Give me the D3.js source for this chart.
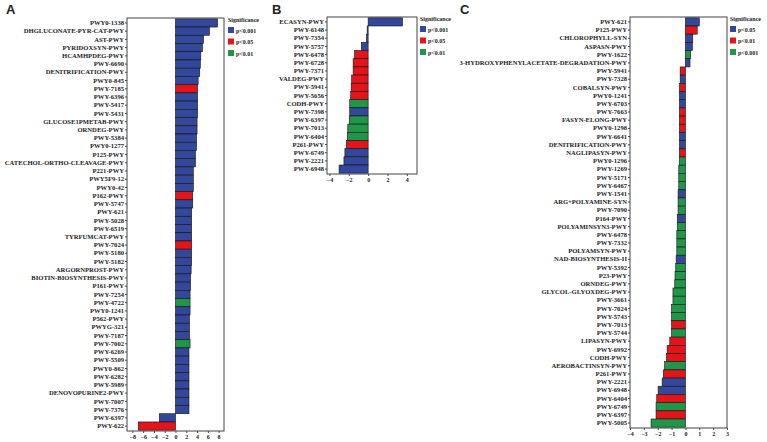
<!DOCTYPE html>
<html>
<head>
<meta charset="utf-8">
<script src="https://cdn.jsdelivr.net/npm/d3@7"></script>
<style>
  body { margin: 0; background: #fff; }
  svg text { font-family: "Liberation Serif", "DejaVu Serif", serif; font-weight: bold; fill: #222; }
</style>
</head>
<body>
<script>
// Panel A
const namesA = ["PWY0-1338","DHGLUCONATE-PYR-CAT-PWY","AST-PWY","PYRIDOXSYN-PWY","HCAMHPDEG-PWY","PWY-6690",
  "DENITRIFICATION-PWY","PWY0-845","PWY-7185","PWY-6396","PWY-5417","PWY-5431","GLUCOSE1PMETAB-PWY","ORNDEG-PWY",
  "PWY-5384","PWY0-1277","P125-PWY","CATECHOL-ORTHO-CLEAVAGE-PWY","P221-PWY","PWY5F9-12","PWY0-42","P162-PWY",
  "PWY-5747","PWY-621","PWY-5028","PWY-6519","TYRFUMCAT-PWY","PWY-7024","PWY-5180","PWY-5182","ARGORNPROST-PWY",
  "BIOTIN-BIOSYNTHESIS-PWY","P161-PWY","PWY-7254","PWY-4722","PWY0-1241","P562-PWY","PWYG-321","PWY-7187",
  "PWY-7002","PWY-6269","PWY-5509","PWY0-862","PWY-6282","PWY-5989","DENOVOPURINE2-PWY","PWY-7007","PWY-7376",
  "PWY-6397","PWY-622"];
const valuesA = [7.8,6.3,5.2,5.0,4.7,4.6,4.5,4.2,4.1,4.1,4.1,4.1,4.0,4.0,3.9,3.9,3.7,3.7,3.3,3.3,3.3,3.2,
  3.2,3.0,3.0,3.0,3.0,3.0,3.0,3.0,2.9,2.8,2.8,2.7,2.7,2.7,2.6,2.6,2.6,2.7,2.5,2.5,2.5,2.5,2.5,2.5,2.5,2.5,
  -3.0,-6.9];
const sigA = ["b","b","b","b","b","b","b","b","r","b","b","b","b","b","b","b","b","b","b","b","b","r",
  "b","b","b","b","b","r","b","b","b","b","b","b","g","b","b","b","b","g","b","b","b","b","b","b","b","b",
  "b","r"];
const ticksA = [-8,-6,-4,-2,0,2,4,6,8];
const legendA = ["p<0.001","p<0.05","p<0.01"];

// Panel B
const namesB = ["ECASYN-PWY","PWY-6148","PWY-7354","PWY-5757","PWY-6478","PWY-6728","PWY-7371","VALDEG-PWY",
  "PWY-5941","PWY-5656","CODH-PWY","PWY-7398","PWY-6397","PWY-7013","PWY-6404","P261-PWY","PWY-6749",
  "PWY-2221","PWY-6948"];
const valuesB = [3.55,-0.1,-0.17,-0.7,-1.4,-1.55,-1.55,-1.7,-1.75,-1.8,-1.9,-1.9,-1.95,-2.1,-2.15,-2.25,-2.4,-2.5,-3.0];
const sigB = ["b","b","b","b","r","r","r","r","r","r","g","b","g","g","g","r","b","b","b"];
const ticksB = [-4,-2,0,2,4];
const legendB = ["p<0.001","p<0.05","p<0.01"];

// Panel C
const namesC = ["PWY-621","P125-PWY","CHLOROPHYLL-SYN","ASPASN-PWY","PWY-1622",
  "3-HYDROXYPHENYLACETATE-DEGRADATION-PWY","PWY-5941","PWY-7328","COBALSYN-PWY","PWY0-1241","PWY-6703",
  "PWY-7663","FASYN-ELONG-PWY","PWY0-1298","PWY-6641","DENITRIFICATION-PWY","NAGLIPASYN-PWY","PWY0-1296",
  "PWY-1269","PWY-5171","PWY-6467","PWY-1541","ARG+POLYAMINE-SYN","PWY-7090","P164-PWY","POLYAMINSYN3-PWY",
  "PWY-6478","PWY-7332","POLYAMSYN-PWY","NAD-BIOSYNTHESIS-II","PWY-5392","P23-PWY","ORNDEG-PWY",
  "GLYCOL-GLYOXDEG-PWY","PWY-3661","PWY-7024","PWY-5743","PWY-7013","PWY-5744","LIPASYN-PWY","PWY-6992",
  "CODH-PWY","AEROBACTINSYN-PWY","P261-PWY","PWY-2221","PWY-6948","PWY-6404","PWY-6749","PWY-6397","PWY-5005"];
const valuesC = [1.0,0.85,0.53,0.5,0.38,0.33,-0.38,-0.38,-0.43,-0.43,-0.43,-0.43,-0.43,-0.43,-0.43,-0.43,
  -0.43,-0.43,-0.48,-0.48,-0.48,-0.53,-0.53,-0.53,-0.58,-0.58,-0.62,-0.62,-0.62,-0.67,-0.7,-0.75,-0.77,
  -0.9,-0.9,-1.0,-1.0,-1.0,-1.0,-1.13,-1.32,-1.37,-1.5,-1.6,-1.68,-1.97,-2.07,-2.12,-2.12,-2.48];
const sigC = ["b","r","b","b","g","b","r","b","r","b","b","r","r","r","b","b","r","g","g","g","g","b","g","g",
  "b","g","g","g","g","b","g","g","g","g","g","g","g","r","g","r","r","r","g","r","b","b","r","g","r","g"];
const ticksC = [-4,-3,-2,-1,0,1,2,3];
const legendC = ["p<0.05","p<0.01","p<0.001"];

const colors = { b: "#33479b", r: "#e3151b", g: "#1f9648" };

const svg = d3.select("body").append("svg")
  .attr("width", 767)
  .attr("height", 442);

function drawPanel(opt) {
  const x = d3.scaleLinear().domain(opt.domain).range([opt.left, opt.right]);
  const y = d3.scaleBand().domain(opt.names).range([opt.top, opt.bottom]).paddingInner(0).paddingOuter(0.1);
  const g = svg.append("g");

  g.selectAll("rect.bar")
    .data(opt.names)
    .enter().append("rect")
    .attr("class", "bar")
    .attr("x", (d, i) => x(Math.min(0, opt.values[i])))
    .attr("width", (d, i) => Math.abs(x(opt.values[i]) - x(0)))
    .attr("y", d => y(d))
    .attr("height", y.bandwidth())
    .attr("fill", (d, i) => colors[opt.sig[i]])
    .attr("stroke", "#111")
    .attr("stroke-width", 0.6);

  // frame
  g.append("rect")
    .attr("x", opt.left).attr("y", opt.top)
    .attr("width", opt.right - opt.left).attr("height", opt.bottom - opt.top)
    .attr("fill", "none").attr("stroke", "#444").attr("stroke-width", 1);

  const yAxis = g.append("g")
    .attr("transform", `translate(${opt.left},0)`)
    .call(d3.axisLeft(y).tickSize(2).tickPadding(1));
  yAxis.select(".domain").remove();
  yAxis.selectAll("text").style("font-size", "6.6px");
  yAxis.selectAll("line").attr("stroke", "#444");

  const xAxis = g.append("g")
    .attr("transform", `translate(0,${opt.bottom})`)
    .call(d3.axisBottom(x).tickValues(opt.ticks).tickFormat(d3.format("d")).tickSize(2).tickPadding(2));
  xAxis.select(".domain").remove();
  xAxis.selectAll("text").style("font-size", "6px");
  xAxis.selectAll("line").attr("stroke", "#444");

  // legend
  const lg = g.append("g").attr("transform", `translate(${opt.legendX},${opt.top})`);
  lg.append("text").attr("x", 0).attr("y", 4).style("font-size", "6px").text("Significance");
  const keys = ["b", "r", "g"];
  keys.forEach((k, i) => {
    lg.append("rect").attr("x", 0).attr("y", 9 + i * 11.5).attr("width", 6).attr("height", 6)
      .attr("fill", colors[k]);
    lg.append("text").attr("x", 8).attr("y", 14.5 + i * 11.5).style("font-size", "6px").text(opt.legend[i]);
  });

  svg.append("text")
    .attr("x", opt.letterX).attr("y", 14)
    .style("font-family", "Liberation Sans, Arial, sans-serif")
    .style("font-size", "13px").style("font-weight", "bold")
    .text(opt.letter);
}

drawPanel({ names: namesA, values: valuesA, sig: sigA, ticks: ticksA, legend: legendA,
  domain: [-9, 9], left: 127, right: 224, top: 18, bottom: 431, legendX: 228, letter: "A", letterX: 6 });
drawPanel({ names: namesB, values: valuesB, sig: sigB, ticks: ticksB, legend: legendB,
  domain: [-4.25, 5.05], left: 327, right: 417, top: 17, bottom: 174, legendX: 420, letter: "B", letterX: 272 });
drawPanel({ names: namesC, values: valuesC, sig: sigC, ticks: ticksC, legend: legendC,
  domain: [-4, 3], left: 630, right: 727, top: 17, bottom: 428, legendX: 730, letter: "C", letterX: 460 });
</script>
</body>
</html>
